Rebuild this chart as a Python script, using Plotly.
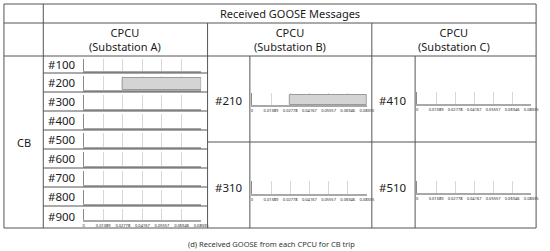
import plotly.graph_objects as go

# ---------------- data ----------------
relays_A = ["#100", "#200", "#300", "#400", "#500", "#600", "#700", "#800", "#900"]
relays_B = ["#210", "#310"]
relays_C = ["#410", "#510"]
msg_relays = ["#200", "#210"]
msg_start = [0.02778, 0.02778]
msg_end = [0.08335, 0.08335]
tick_vals = [0, 0.01389, 0.02778, 0.04167, 0.05557, 0.06946, 0.08335]
tick_labels = ["0", "0.01389", "0.02778", "0.04167", "0.05557", "0.06946", "0.08335"]
header = "Received GOOSE Messages"
col_titles = ["CPCU<br>(Substation A)", "CPCU<br>(Substation B)", "CPCU<br>(Substation C)"]
row_title = "CB"
caption = "(d) Received GOOSE from each CPCU for CB trip"

W, H = 550, 251
FONT = "Noto Sans"
LINE = "#555555"

def px(x):
    return x / W

def py(y):
    return 1 - y / H

fig = go.Figure()
shapes = []
annotations = []

def hline(x0, x1, y):
    shapes.append(dict(type="line", xref="paper", yref="paper", x0=px(x0), x1=px(x1),
                       y0=py(y), y1=py(y), line=dict(color=LINE, width=1)))

def vline(x, y0, y1):
    shapes.append(dict(type="line", xref="paper", yref="paper", x0=px(x), x1=px(x),
                       y0=py(y0), y1=py(y1), line=dict(color=LINE, width=1)))

def text(t, x, y, size=11, color="#1a1a1a"):
    annotations.append(dict(text=t, x=px(x), y=py(y), xref="paper", yref="paper",
                            showarrow=False, xanchor="center", yanchor="middle",
                            font=dict(family=FONT, size=size, color=color)))

# ---------------- table grid ----------------
L, R, T, B = 3, 544, 4, 228
hline(L, R, T); hline(L, R, B); vline(L, T, B); vline(R, T, B)
hline(L, R, 23); hline(L, R, 56)
vline(43, T, B)
vline(210, 23, B); vline(377, 23, B)
rows_y = [56, 73, 92, 111, 130, 149, 168, 187, 206, 228]
for yy in rows_y[1:-1]:
    hline(43, 210, yy)
vline(253, 56, B); vline(421, 56, B)
hline(210, R, 142)

text(header, 293.5, 14, 11)
for t, cx in zip(col_titles, [126.5, 293.5, 460.5]):
    text(t, cx, 40, 11)
text(row_title, 23, 142, 11)
text(caption, 275, 244, 7.5, "#333")

# ---------------- mini charts ----------------
charts = []  # (name, x0, x1, ytop, ybottom, show labels)
for i, name in enumerate(relays_A):
    top, bot = rows_y[i], rows_y[i + 1]
    if i == len(relays_A) - 1:
        charts.append((name, 84, 203.5, top + 3, bot - 8, True))
    else:
        charts.append((name, 84, 203.5, top + 3, bot - 2, False))
    text(name, 62, (top + bot) / 2 if i < len(relays_A) - 1 else 216, 11.5)
for name, (yt, yb) in zip(relays_B, [(93, 105), (181, 194)]):
    charts.append((name, 255, 372, yt, yb, True))
for name, (yt, yb) in zip(relays_C, [(92, 104), (181, 193)]):
    charts.append((name, 423, 539, yt, yb, True))
text(relays_B[0], 231.5, 100, 11.5); text(relays_B[1], 231.5, 187, 11.5)
text(relays_C[0], 399, 100, 11.5); text(relays_C[1], 399, 187, 11.5)

layout_axes = {}
for k, (name, x0, x1, yt, yb, show) in enumerate(charts, start=1):
    xa = "x" if k == 1 else f"x{k}"
    ya = "y" if k == 1 else f"y{k}"
    if name in msg_relays:
        j = msg_relays.index(name)
        fig.add_trace(go.Bar(x=[msg_end[j] - msg_start[j]], base=[msg_start[j]], y=[0.43],
                             width=[0.86], orientation="h", xaxis=xa, yaxis=ya,
                             marker=dict(color="#d4d4d4", line=dict(color="#9a9a9a", width=1)),
                             showlegend=False, hoverinfo="skip"))
    else:
        fig.add_trace(go.Scatter(x=[None], y=[None], xaxis=xa, yaxis=ya,
                                 showlegend=False, hoverinfo="skip"))
    kx = "xaxis" if k == 1 else f"xaxis{k}"
    ky = "yaxis" if k == 1 else f"yaxis{k}"
    layout_axes[kx] = dict(domain=[px(x0), px(x1)], range=[0, tick_vals[-1]], anchor=ya,
                           tickmode="array", tickvals=tick_vals, ticktext=tick_labels,
                           showticklabels=show, ticks="", showgrid=True, gridcolor="#d6d6d6",
                           gridwidth=1, zeroline=False, showline=True, linecolor="#a8a8a8",
                           linewidth=2, tickfont=dict(family=FONT, size=4, color="#222"),
                           fixedrange=True)
    layout_axes[ky] = dict(domain=[py(yb), py(yt)], range=[0, 1], anchor=xa,
                           showticklabels=False, showgrid=False, zeroline=False,
                           showline=True, linecolor="#8a8a8a", linewidth=1, ticks="",
                           fixedrange=True)

fig.update_layout(width=W, height=H, margin=dict(l=0, r=0, t=0, b=0),
                  paper_bgcolor="white", plot_bgcolor="white", shapes=shapes,
                  annotations=annotations, showlegend=False, bargap=0, **layout_axes)

fig.write_html("out.html", config={"displayModeBar": False},
               post_script="document.body.style.margin='0';document.body.style.overflow='hidden';")
